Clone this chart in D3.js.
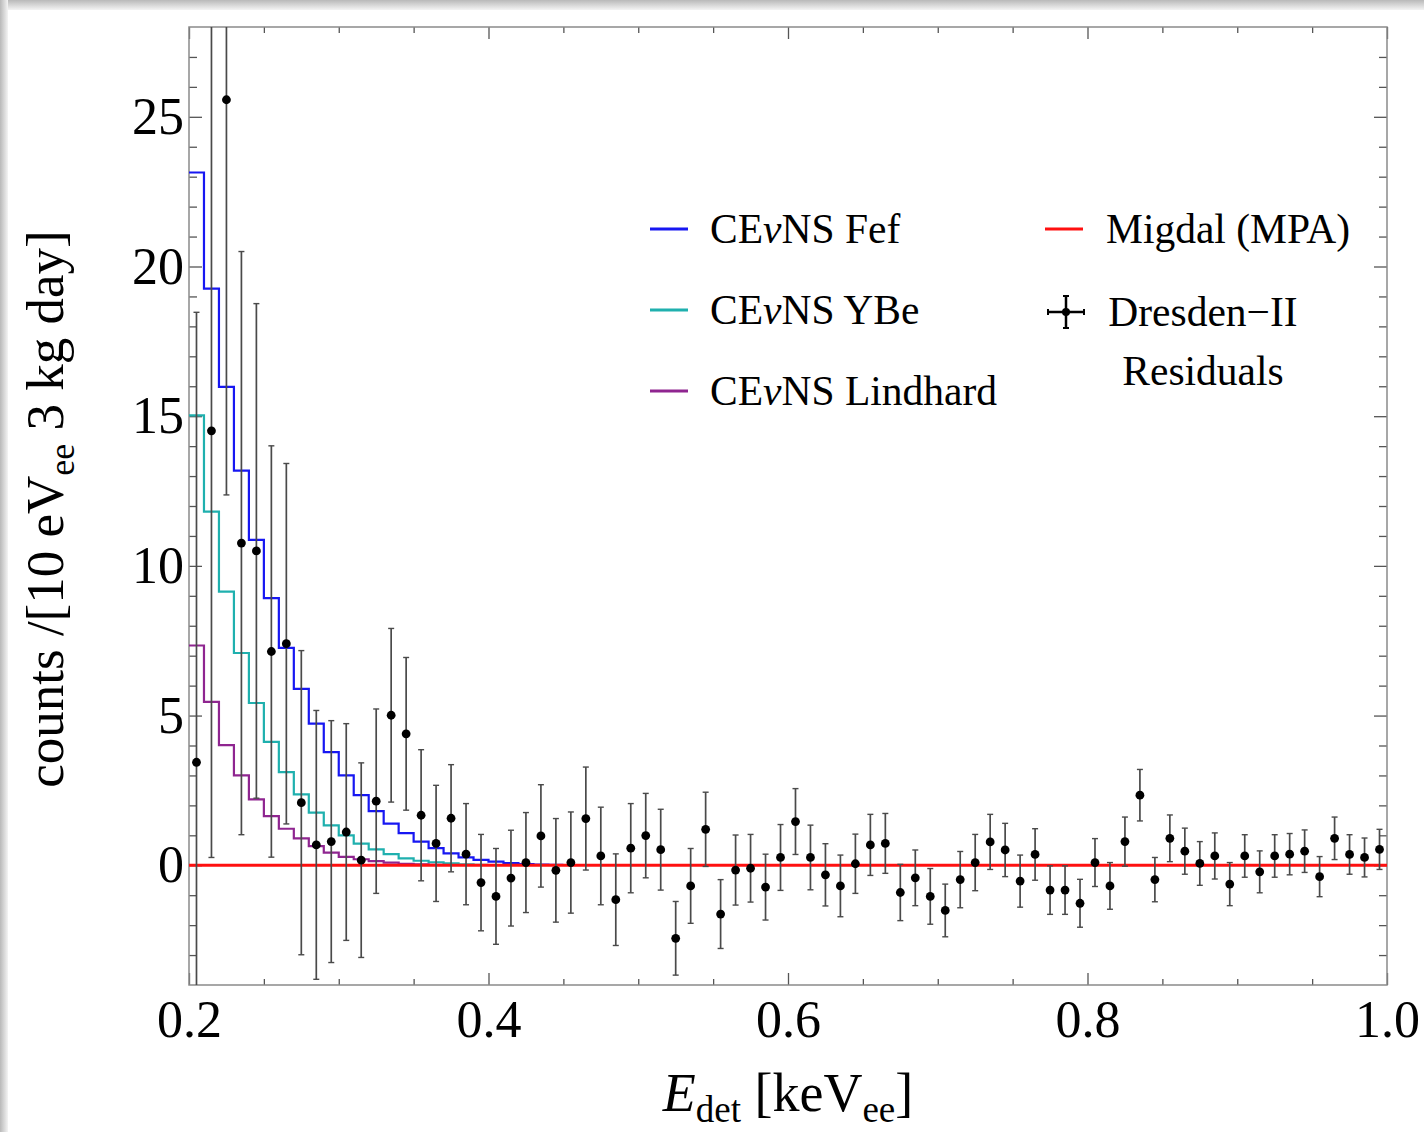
<!DOCTYPE html>
<html>
<head>
<meta charset="utf-8">
<script src="https://cdn.jsdelivr.net/npm/d3@7"></script>
<style>
  body { margin: 0; background: #fff; }
  svg text { font-family: "Liberation Serif", "DejaVu Serif", serif; fill: #000; }
</style>
</head>
<body>
<div id="chart"></div>
<script>
// bins of 10 eV starting at 0.2 keVee
var binStart = 0.2,
    binWidth = 0.01;

// CEvNS predictions (step histograms), one value per bin
var fefCounts = [23.14, 19.26, 15.98, 13.18, 10.87, 8.92, 7.26, 5.89, 4.73, 3.78,
                 3.0, 2.34, 1.81, 1.39, 1.07, 0.79, 0.57, 0.40, 0.26, 0.18,
                 0.12, 0.07, 0.04, 0.02, 0.01];
var ybeCounts = [15.03, 11.81, 9.14, 7.09, 5.42, 4.12, 3.11, 2.37, 1.76, 1.33,
                 1.0, 0.72, 0.53, 0.37, 0.23, 0.15, 0.10, 0.06, 0.03, 0.01];
var lindhardCounts = [7.34, 5.46, 4.01, 3.0, 2.2, 1.64, 1.22, 0.9, 0.64, 0.42,
                      0.28, 0.2, 0.14, 0.09, 0.05, 0.03, 0.01];

// Migdal (MPA) -- flat at zero over the range
var migdalEnergy = [0.2, 1.0];
var migdalCounts = [0, 0];

// Dresden-II residuals, bin centres 0.205 ... 0.995
var residuals = [3.44, 14.51, 25.57, 10.76, 10.5, 7.14, 7.4, 2.09, 0.68, 0.79,
                 1.11, 0.17, 2.14, 5.01, 4.39, 1.67, 0.73, 1.57, 0.37, -0.58,
                 -1.04, -0.43, 0.09, 0.98, -0.17, 0.09, 1.56, 0.31, -1.15, 0.57,
                 0.99, 0.52, -2.44, -0.69, 1.2, -1.63, -0.16, -0.1, -0.73, 0.26,
                 1.46, 0.26, -0.32, -0.69, 0.05, 0.68, 0.73, -0.91, -0.42, -1.04,
                 -1.51, -0.48, 0.09, 0.78, 0.51, -0.53, 0.36, -0.83, -0.83, -1.27,
                 0.09, -0.69, 0.79, 2.34, -0.48, 0.9, 0.47, 0.06, 0.31, -0.63,
                 0.31, -0.22, 0.31, 0.37, 0.47, -0.38, 0.9, 0.36, 0.26, 0.53];
var residualErrors = [15.03, 14.25, 13.2, 9.74, 8.26, 6.87, 6.02, 5.08, 4.49, 4.04,
                      3.62, 3.25, 3.08, 2.9, 2.55, 2.19, 1.94, 1.79, 1.69, 1.61,
                      1.6, 1.6, 1.67, 1.71, 1.73, 1.69, 1.72, 1.63, 1.53, 1.49,
                      1.41, 1.35, 1.23, 1.25, 1.24, 1.15, 1.17, 1.13, 1.1, 1.1,
                      1.1, 1.08, 1.04, 1.03, 0.99, 1.02, 1.0, 0.94, 0.93, 0.93,
                      0.88, 0.94, 0.94, 0.92, 0.89, 0.87, 0.86, 0.81, 0.81, 0.8,
                      0.8, 0.78, 0.82, 0.86, 0.74, 0.78, 0.77, 0.73, 0.77, 0.72,
                      0.71, 0.7, 0.71, 0.69, 0.71, 0.67, 0.71, 0.66, 0.65, 0.67];

var xTicks = [0.2, 0.4, 0.6, 0.8, 1.0];
var yTicks = [0, 5, 10, 15, 20, 25];

var margin = {top: 27, right: 37, bottom: 147, left: 189},
    width = 1424 - margin.left - margin.right,
    height = 1132 - margin.top - margin.bottom;

var x = d3.scaleLinear().domain([0.2, 1.0]).range([0, width]);
var y = d3.scaleLinear().domain([-4, 28]).range([height, 0]);

var xMinor = d3.range(0.2, 1.0001, 0.05).filter(function (d) {
      return Math.abs(d * 5 - Math.round(d * 5)) > 1e-6;
});
var yMinor = d3.range(-3, 28).filter(function (d) { return d % 5 !== 0; });

var svg = d3.select("#chart").append("svg")
      .attr("width", 1424)
      .attr("height", 1132);

// soft grey shadow along top and left edge of the picture
var defs = svg.append("defs");
var gTop = defs.append("linearGradient").attr("id", "shTop")
      .attr("x1", 0).attr("y1", 0).attr("x2", 0).attr("y2", 1);
gTop.append("stop").attr("offset", "0%").attr("stop-color", "#b9b9b9");
gTop.append("stop").attr("offset", "100%").attr("stop-color", "#f4f4f4");
var gLeft = defs.append("linearGradient").attr("id", "shLeft")
      .attr("x1", 0).attr("y1", 0).attr("x2", 1).attr("y2", 0);
gLeft.append("stop").attr("offset", "0%").attr("stop-color", "#b9b9b9");
gLeft.append("stop").attr("offset", "100%").attr("stop-color", "#f4f4f4");
svg.append("rect").attr("x", 0).attr("y", 0).attr("width", 1424).attr("height", 10)
      .attr("fill", "url(#shTop)");
svg.append("rect").attr("x", 0).attr("y", 0).attr("width", 8).attr("height", 1132)
      .attr("fill", "url(#shLeft)");

defs.append("clipPath").attr("id", "plotClip")
      .append("rect").attr("width", width).attr("height", height);

var g = svg.append("g")
      .attr("transform", "translate(" + margin.left + "," + margin.top + ")");

// ---- axes / frame ----
function styleAxis(sel) {
      sel.select(".domain").remove();
      sel.selectAll(".tick line").attr("stroke", "#555").attr("stroke-width", 1.3);
      sel.selectAll("text").style("font-size", "52px");
}

g.append("g").attr("transform", "translate(0," + height + ")")
      .call(d3.axisBottom(x).tickValues(xMinor).tickSizeInner(-6).tickSizeOuter(0).tickFormat(""))
      .call(styleAxis);
g.append("g").attr("transform", "translate(0," + height + ")")
      .call(d3.axisBottom(x).tickValues(xTicks).tickSizeInner(-12).tickSizeOuter(0).tickPadding(15)
            .tickFormat(d3.format(".1f")))
      .call(styleAxis);
g.append("g")
      .call(d3.axisTop(x).tickValues(xMinor).tickSizeInner(-6).tickSizeOuter(0).tickFormat(""))
      .call(styleAxis);
g.append("g")
      .call(d3.axisTop(x).tickValues(xTicks).tickSizeInner(-12).tickSizeOuter(0).tickFormat(""))
      .call(styleAxis);

g.append("g")
      .call(d3.axisLeft(y).tickValues(yMinor).tickSizeInner(-8).tickSizeOuter(0).tickFormat(""))
      .call(styleAxis);
g.append("g")
      .call(d3.axisLeft(y).tickValues(yTicks).tickSizeInner(-13).tickSizeOuter(0).tickPadding(5))
      .call(styleAxis);
g.append("g").attr("transform", "translate(" + width + ",0)")
      .call(d3.axisRight(y).tickValues(yMinor).tickSizeInner(-8).tickSizeOuter(0).tickFormat(""))
      .call(styleAxis);
g.append("g").attr("transform", "translate(" + width + ",0)")
      .call(d3.axisRight(y).tickValues(yTicks).tickSizeInner(-13).tickSizeOuter(0).tickFormat(""))
      .call(styleAxis);

g.append("rect")
      .attr("width", width).attr("height", height)
      .attr("fill", "none").attr("stroke", "#8a8a8a").attr("stroke-width", 1.5);

// ---- histograms ----
var plot = g.append("g").attr("clip-path", "url(#plotClip)");

function stepPoints(counts) {
      var pts = counts.map(function (v, i) {
            return {e: binStart + i * binWidth, v: v};
      });
      pts.push({e: binStart + counts.length * binWidth, v: counts[counts.length - 1]});
      return pts;
}

var stepLine = d3.line()
      .x(function (d) { return x(d.e); })
      .y(function (d) { return y(d.v); })
      .curve(d3.curveStepAfter);

var series = [
      {name: "Fef", counts: fefCounts, color: "#1717f2"},
      {name: "YBe", counts: ybeCounts, color: "#1fb0ae"},
      {name: "Lindhard", counts: lindhardCounts, color: "#8f2590"}
];

series.forEach(function (s) {
      plot.append("path")
            .attr("d", stepLine(stepPoints(s.counts)))
            .attr("fill", "none")
            .attr("stroke", s.color)
            .attr("stroke-width", 2.2);
});

// Migdal line
plot.append("path")
      .attr("d", d3.line()
            .x(function (d, i) { return x(migdalEnergy[i]); })
            .y(function (d) { return y(d); })(migdalCounts))
      .attr("fill", "none")
      .attr("stroke", "#ff1010")
      .attr("stroke-width", 3.2);

// ---- residual points with error bars ----
var pts = residuals.map(function (v, i) {
      return {e: binStart + binWidth / 2 + i * binWidth, v: v, err: residualErrors[i]};
});

var bars = plot.selectAll(".bar").data(pts).enter().append("g").attr("class", "bar");
bars.append("line")
      .attr("x1", function (d) { return x(d.e); })
      .attr("x2", function (d) { return x(d.e); })
      .attr("y1", function (d) { return y(d.v - d.err); })
      .attr("y2", function (d) { return y(d.v + d.err); })
      .attr("stroke", "#4a4a4a").attr("stroke-width", 1.7);
bars.append("line")
      .attr("x1", function (d) { return x(d.e) - 3; })
      .attr("x2", function (d) { return x(d.e) + 3; })
      .attr("y1", function (d) { return y(d.v - d.err); })
      .attr("y2", function (d) { return y(d.v - d.err); })
      .attr("stroke", "#4a4a4a").attr("stroke-width", 1.4);
bars.append("line")
      .attr("x1", function (d) { return x(d.e) - 3; })
      .attr("x2", function (d) { return x(d.e) + 3; })
      .attr("y1", function (d) { return y(d.v + d.err); })
      .attr("y2", function (d) { return y(d.v + d.err); })
      .attr("stroke", "#4a4a4a").attr("stroke-width", 1.4);
bars.append("circle")
      .attr("cx", function (d) { return x(d.e); })
      .attr("cy", function (d) { return y(d.v); })
      .attr("r", 4.4)
      .attr("fill", "#000");

// ---- legend ----
var leftLegend = [
      {label: "Fef", color: "#1717f2"},
      {label: "YBe", color: "#1fb0ae"},
      {label: "Lindhard", color: "#8f2590"}
];
var lg = svg.append("g");
leftLegend.forEach(function (d, i) {
      var yy = 229 + i * 81;
      lg.append("line").attr("x1", 650).attr("x2", 688).attr("y1", yy).attr("y2", yy)
            .attr("stroke", d.color).attr("stroke-width", 3);
      var t = lg.append("text").attr("x", 710).attr("y", yy + 14).style("font-size", "41.5px");
      t.append("tspan").text("CE");
      t.append("tspan").style("font-style", "italic").text("\u03bd");
      t.append("tspan").text("NS " + d.label);
});

lg.append("line").attr("x1", 1045).attr("x2", 1083).attr("y1", 229).attr("y2", 229)
      .attr("stroke", "#ff1010").attr("stroke-width", 3);
lg.append("text").attr("x", 1106).attr("y", 243).style("font-size", "41.5px").text("Migdal (MPA)");

// error-bar cross symbol
var cx = 1066, cy = 312;
lg.append("line").attr("x1", cx - 18).attr("x2", cx + 18).attr("y1", cy).attr("y2", cy)
      .attr("stroke", "#000").attr("stroke-width", 2.5);
lg.append("line").attr("x1", cx).attr("x2", cx).attr("y1", cy - 16).attr("y2", cy + 16)
      .attr("stroke", "#000").attr("stroke-width", 2.5);
[[-18, 0, 0, 3], [18, 0, 0, 3], [0, -16, 3, 0], [0, 16, 3, 0]].forEach(function (c) {
      lg.append("line")
            .attr("x1", cx + c[0] - c[2]).attr("x2", cx + c[0] + c[2])
            .attr("y1", cy + c[1] - c[3]).attr("y2", cy + c[1] + c[3])
            .attr("stroke", "#000").attr("stroke-width", 2);
});
lg.append("circle").attr("cx", cx).attr("cy", cy).attr("r", 4).attr("fill", "#000");

lg.append("text").attr("x", 1203).attr("y", 326).attr("text-anchor", "middle")
      .style("font-size", "41.5px").text("Dresden\u2212II");
lg.append("text").attr("x", 1203).attr("y", 385).attr("text-anchor", "middle")
      .style("font-size", "41.5px").text("Residuals");

// ---- axis titles ----
var xt = svg.append("text")
      .attr("x", 788).attr("y", 1111)
      .attr("text-anchor", "middle")
      .style("font-size", "54px");
xt.append("tspan").style("font-style", "italic").text("E");
xt.append("tspan").attr("dy", 11).style("font-size", "37px").text("det");
xt.append("tspan").attr("dy", -11).text(" [keV");
xt.append("tspan").attr("dy", 11).style("font-size", "37px").text("ee");
xt.append("tspan").attr("dy", -11).text("]");

var yt = svg.append("text")
      .attr("transform", "translate(63,509) rotate(-90)")
      .attr("text-anchor", "middle")
      .style("font-size", "53px");
yt.append("tspan").text("counts /[10 eV");
yt.append("tspan").attr("dy", 11).style("font-size", "36px").text("ee");
yt.append("tspan").attr("dy", -11).text(" 3 kg day]");
</script>
</body>
</html>
